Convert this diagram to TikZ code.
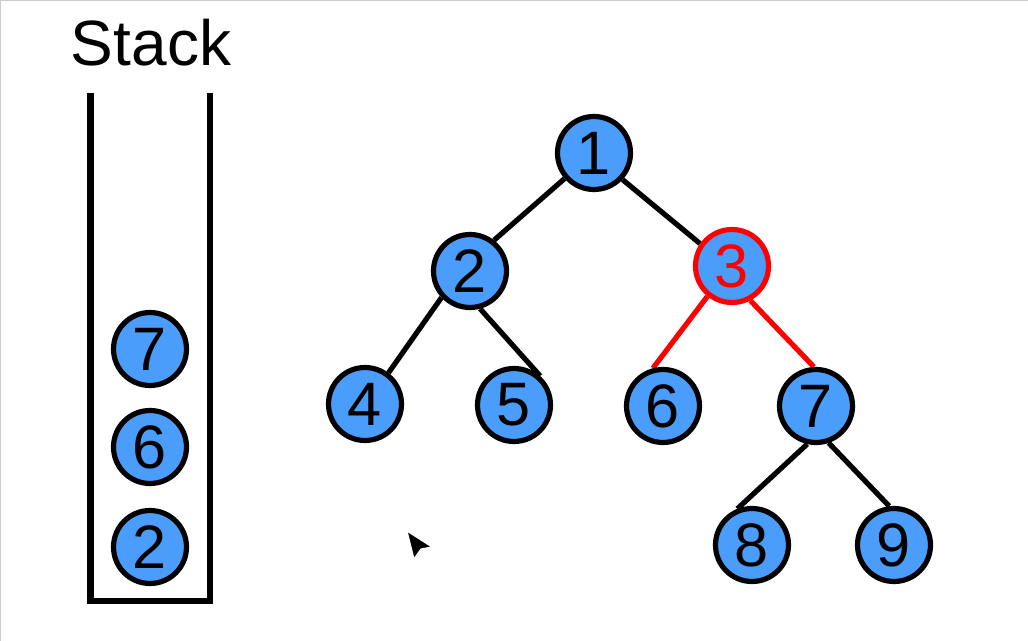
\documentclass[tikz,border=0pt]{standalone}
\usepackage{fontspec}
\setmainfont{Liberation Sans}
\usetikzlibrary{backgrounds}
\definecolor{nodeblue}{RGB}{74,157,250}
\definecolor{hlred}{RGB}{255,0,0}
\tikzset{
  vertex/.style={draw, circle, fill=nodeblue, line width=3.9pt, minimum size=54.75pt, inner sep=0pt, font=\fontsize{46}{52}\selectfont},
  marked/.style={draw=hlred, text=hlred},
  link/.style={line width=3.9pt}
}

\begin{document}
\begin{tikzpicture}[x=0.75pt, y=-0.75pt]
    \useasboundingbox (0,0) rectangle (1028,641);
    \draw[black!20, line width=1.5pt] (0,641) -- (0,0) -- (1028,0);

    % stack
    \node[font=\fontsize{48}{56}\selectfont] (title) at (151,43) {Stack};
    \draw[line width=4.6pt] (90.5,93) -- (90.5,601) -- (210,601) -- (210,93);
    \foreach \v/\y in {7/349, 6/447, 2/547} {
        \node[vertex] (s\v) at (150,\y) {\v};
    }

    % tree
    \node[vertex] (n1) at (594,153) {1};
    \node[vertex] (n2) at (470,271) {2};
    \node[vertex, marked] (n3) at (732,266) {3};
    \node[vertex] (n4) at (365,404) {4};
    \node[vertex] (n5) at (514,405) {5};
    \node[vertex] (n6) at (663,406) {6};
    \node[vertex] (n7) at (816,406) {7};
    \node[vertex] (n8) at (752,545) {8};
    \node[vertex] (n9) at (894,545) {9};

    \begin{scope}[on background layer]
        \draw[link] (n1.-139) -- (n2.52);
        \draw[link] (n1.-43) -- (n3.145);
        \draw[link] (n2.-137) -- (n4.53);
        \draw[link] (n2.-75) -- (n5.48);
        \draw[link, hlred] (n3.-129) -- (n6.105);
        \draw[link, hlred] (n3.-62) -- (n7.93);
        \draw[link] (n7.-103) -- (n8.112);
        \draw[link] (n7.-71) -- (n9.97);
    \end{scope}

    % pointer
    \filldraw[fill=black, draw=white, line width=0.9pt, line join=round] (407,531) -- (432,547) -- (421,549) -- (414,559) -- cycle;
\end{tikzpicture}
\end{document}
